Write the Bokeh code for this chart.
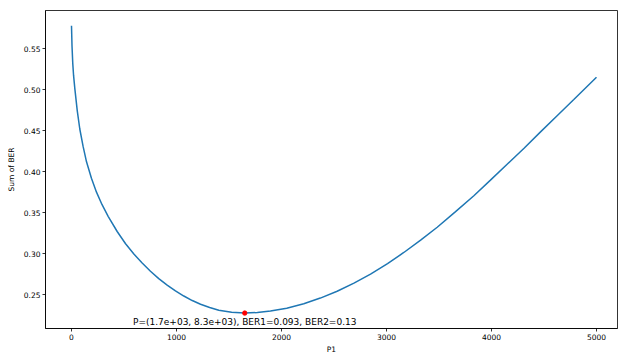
from bokeh.plotting import figure
from bokeh.models import FixedTicker, PrintfTickFormatter, Range1d, ColumnDataSource
from bokeh.core.properties import value
from bokeh.embed import file_html
from bokeh.resources import INLINE

# ---- data ----
p1 = [0, 5, 12, 20, 32, 55, 79, 110, 143, 190, 238, 290, 349, 435, 515, 594,
      673, 752, 831, 911, 990, 1070, 1150, 1229, 1316, 1403, 1525, 1650,
      1770, 1895, 2050, 2212, 2370, 2530, 2690, 2848, 3010, 3165, 3325, 3483,
      3655, 3832, 3990, 4149, 4310, 4467, 4625, 4784, 5000]
sum_ber = [0.578, 0.553, 0.532, 0.517, 0.501, 0.474, 0.452, 0.431, 0.412,
           0.392, 0.375, 0.360, 0.3455, 0.327, 0.312, 0.2995, 0.2885, 0.2785,
           0.2695, 0.2615, 0.2545, 0.2483, 0.2428, 0.2383, 0.2343, 0.2310,
           0.2285, 0.2275,
           0.2282, 0.2300, 0.2335, 0.2388, 0.2458, 0.2541, 0.2641, 0.2751,
           0.2877, 0.3014, 0.3164, 0.3322, 0.3510, 0.3706, 0.3896, 0.4090,
           0.4286, 0.4485, 0.4682, 0.4880, 0.5151]

opt_p1 = [1650]
opt_sum = [0.2275]
opt_label = ["P=(1.7e+03, 8.3e+03), BER1=0.093, BER2=0.13"]

x_ticks = [0, 1000, 2000, 3000, 4000, 5000]
y_ticks = [0.25, 0.30, 0.35, 0.40, 0.45, 0.50, 0.55]

FONT = "DejaVu Sans"

p = figure(width=618, height=356, output_backend="svg", toolbar_location=None,
           x_range=Range1d(-247.6, 5200), y_range=Range1d(0.2087, 0.5965),
           min_border_left=45, min_border_right=1, min_border_top=10,
           min_border_bottom=23, background_fill_color="white",
           border_fill_color="white")

p.line(p1, sum_ber, line_color="#1f77b4", line_width=1.5)
p.scatter(opt_p1, opt_sum, size=4.5, fill_color="red", line_color="red",
          line_width=0.8)

src = ColumnDataSource(dict(x=opt_p1, y=opt_sum, t=opt_label))
p.text(x="x", y="y", text="t", source=src, text_align="center",
       text_baseline="top", y_offset=4, text_font=value(FONT),
       text_font_size="9px", text_color="black")

p.xgrid.visible = False
p.ygrid.visible = False
p.outline_line_color = "black"
p.outline_line_width = 0.8

for ax in (p.xaxis[0], p.yaxis[0]):
    ax.axis_line_color = "black"
    ax.axis_line_width = 0.8
    ax.major_tick_line_color = "black"
    ax.major_tick_line_width = 0.8
    ax.major_tick_out = 3
    ax.major_tick_in = 0
    ax.minor_tick_line_color = None
    ax.major_label_text_font = FONT
    ax.major_label_text_font_size = "7.5px"
    ax.major_label_text_color = "black"
    ax.axis_label_text_font = FONT
    ax.axis_label_text_font_size = "7.5px"
    ax.axis_label_text_font_style = "normal"
    ax.axis_label_text_color = "black"
    ax.major_label_standoff = 2

p.xaxis[0].ticker = FixedTicker(ticks=x_ticks)
p.yaxis[0].ticker = FixedTicker(ticks=y_ticks)
p.yaxis[0].formatter = PrintfTickFormatter(format="%.2f")
p.xaxis[0].axis_label = "P1"
p.yaxis[0].axis_label = "Sum of BER"
p.xaxis[0].axis_label_standoff = 2
p.yaxis[0].axis_label_standoff = 5

open("out.html", "w").write(file_html(p, INLINE))
